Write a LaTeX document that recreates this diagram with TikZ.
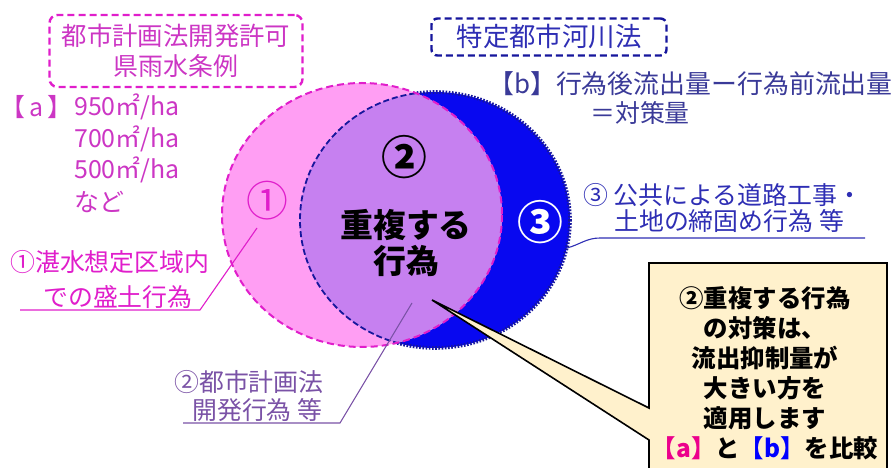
\documentclass[tikz,border=0pt]{standalone}
\usepackage{fontspec}
\setmainfont{Noto Sans CJK JP}
\usepackage{xcolor}
\definecolor{PINKfill}{HTML}{FF9EF3}
\definecolor{PURPLEfill}{HTML}{C680F0}
\definecolor{BLUEfill}{HTML}{0808F0}
\definecolor{PINKline}{HTML}{E01ECB}
\definecolor{NAVYline}{HTML}{16169C}
\definecolor{PINKtext}{HTML}{CC36C4}
\definecolor{MAUVEtext}{HTML}{7A52A6}
\definecolor{BLUEtext}{HTML}{2E2EB4}
\definecolor{NAVYtext}{HTML}{3A3A98}
\definecolor{NOTEcolor}{HTML}{FFF1CC}
\usepackage{tikz}
\usetikzlibrary{math}

\begin{document}
\begin{tikzpicture}[x=1bp, y=-1bp]

    \tikzset{%
        jtext/.style={inner sep=0pt, font=\fontsize{25}{30}\selectfont},
        pinkbox/.style={draw=PINKline, line width=2.4bp, dash pattern=on 7bp off 4bp, rounded corners=8bp},
        bluebox/.style={draw=NAVYline, line width=2.4bp, dash pattern=on 7bp off 4bp, rounded corners=6bp},
        leader/.style={line width=1.1bp},
    }

    \tikzmath{%
        \pcx=362; \pcy=215; \prx=140; \pry=132;
        \bcx=435; \bcy=220; \brx=135; \bry=128;
    }

    \useasboundingbox (0,0) rectangle (896,468);

    % circles
    \fill [BLUEfill] (\bcx,\bcy) ellipse [x radius=\brx, y radius=\bry];
    \draw [NAVYline, line width=3.6bp, dash pattern=on 1.6bp off 1.6bp] (\bcx,\bcy) ellipse [x radius=\brx, y radius=\bry];
    \fill [PINKfill] (\pcx,\pcy) ellipse [x radius=\prx, y radius=\pry];
    \begin{scope}
        \clip (\pcx,\pcy) ellipse [x radius=\prx, y radius=\pry];
        \fill [PURPLEfill] (\bcx,\bcy) ellipse [x radius=\brx, y radius=\bry];
        \draw [NAVYline, line width=1.8bp, dash pattern=on 6bp off 3bp] (\bcx,\bcy) ellipse [x radius=\brx, y radius=\bry];
    \end{scope}
    \draw [PINKline, line width=2bp, dash pattern=on 7bp off 4bp] (\pcx,\pcy) ellipse [x radius=\prx, y radius=\pry];

    \node [font=\fontsize{42}{42}\selectfont, text=PINKline, inner sep=0pt] (one) at (267,201) {①};
    \node [font=\bfseries\fontsize{46}{46}\selectfont, inner sep=0pt] (two) at (404,157) {②};
    \node [font=\bfseries\fontsize{46}{46}\selectfont, text=white, inner sep=0pt] (three) at (540,222) {③};
    \node [font=\bfseries\fontsize{33}{37}\selectfont, align=center, inner sep=0pt] (overlap) at (406,243) {重複する\\行為};

    % law boxes
    \node [jtext, pinkbox, text=PINKtext, align=center, minimum width=253bp, minimum height=72bp] (toshi) at (176,51) {\fontsize{25.5}{30}\selectfont 都市計画法開発許可\\県雨水条例};
    \node [jtext, bluebox, text=BLUEtext, minimum width=235bp, minimum height=37bp] (tokutei) at (549,37) {\fontsize{26.5}{30}\selectfont 特定都市河川法};

    % [a] values
    \node [jtext, text=PINKtext, anchor=west] (alabel) at (0,107) {【\,a\,】};
    \foreach \v [count=\i] in {950㎡/ha, 700㎡/ha, 500㎡/ha, など} {%
            \node [jtext, text=PINKtext, anchor=west] (aval\i) at (74,{107+31.5*(\i-1)}) {\v};
        }

    % [b] formula
    \node [jtext, text=NAVYtext, anchor=west] (blabel) at (488,84) {\fontsize{26}{30}\selectfont 【b】行為後流出量ー行為前流出量};
    \node [jtext, text=NAVYtext, anchor=west] (bresult) at (590,113) {＝対策量};

    % case 1
    \node [jtext, text=PINKline, anchor=west] (case1a) at (10,262) {①湛水想定区域内};
    \node [jtext, text=PINKline, anchor=west] (case1b) at (43,297) {での盛土行為};
    \coordinate (c1a) at (20,310);
    \coordinate (c1b) at (200,310);
    \coordinate (c1c) at (257,228);
    \draw [leader, PINKline] (c1a) -- (c1b) -- (c1c);

    % case 2
    \node [jtext, text=MAUVEtext, anchor=west] (case2a) at (174,382) {②都市計画法};
    \node [jtext, text=MAUVEtext, anchor=west] (case2b) at (192,410) {開発行為 等};
    \coordinate (c2a) at (183,423);
    \coordinate (c2b) at (340,423);
    \coordinate (c2c) at (412,303);
    \draw [leader, MAUVEtext] (c2a) -- (c2b) -- (c2c);

    % case 3
    \node [jtext, text=BLUEtext, anchor=west] (case3a) at (583,195) {③ 公共による道路工事・};
    \node [jtext, text=BLUEtext, anchor=west] (case3b) at (614,221) {土地の締固め行為 等};
    \coordinate (c3a) at (865,238);
    \coordinate (c3b) at (600,238);
    \coordinate (c3c) at (567,248);
    \draw [leader, BLUEtext] (c3a) -- (c3b) to [out=180, in=15] (c3c);

    % callout
    \coordinate (tip) at (432,300);
    \filldraw [fill=NOTEcolor, draw=black, line width=1.6bp] (649,263) -- (887,263) -- (887,480) -- (649,480) -- (649,440) -- (tip) -- (649,408) -- cycle;
    \node [font=\bfseries\fontsize{24.5}{30.2}\selectfont, align=center, inner sep=0pt] (note) at (765,373)
        {②重複する行為\\の対策は、\\流出抑制量が\\大きい方を\\適用します\\{\color{magenta}【a】}と{\color{blue}【b】}を比較};

\end{tikzpicture}
\end{document}
